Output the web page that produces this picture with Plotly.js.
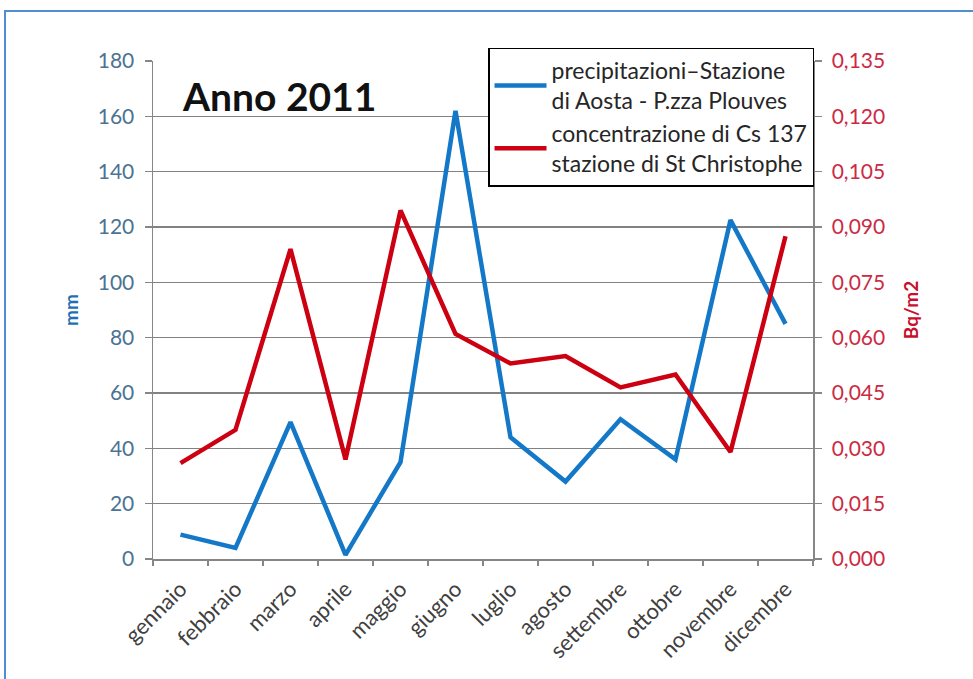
<!DOCTYPE html>
<html>
<head>
<meta charset="utf-8">
<script src="https://cdn.plot.ly/plotly-3.0.1.min.js"></script>
<style>
  html, body { margin: 0; padding: 0; background: #ffffff; overflow: hidden; }
  #frame { position: absolute; left: 4px; top: 10px; width: 1000px; height: 1000px;
           border-left: 2px solid #4f8fcf; border-top: 2px solid #4f8fcf; box-sizing: border-box; }
  #chart { position: absolute; left: 0; top: 0; width: 973px; height: 679px; }
</style>
</head>
<body>
<div id="frame"></div>
<div id="chart"></div>
<script>
// Monthly categories
const months = ['gennaio', 'febbraio', 'marzo', 'aprile', 'maggio', 'giugno',
                'luglio', 'agosto', 'settembre', 'ottobre', 'novembre', 'dicembre'];

// Precipitation, Aosta - P.zza Plouves (mm)
const precipitazioni = [8.8, 4, 49.5, 1.5, 35, 162, 44, 28, 50.5, 36, 122.5, 85];

// Cs 137 concentration, St Christophe (Bq/m2)
const cesio137 = [0.026, 0.035, 0.084, 0.027, 0.0945, 0.061, 0.053, 0.055, 0.0465, 0.050, 0.029, 0.0875];

const leftTicks = [0, 20, 40, 60, 80, 100, 120, 140, 160, 180];
const rightTicks = [0, 0.015, 0.03, 0.045, 0.06, 0.075, 0.09, 0.105, 0.12, 0.135];

const FONT = 'Lato, "Open Sans", sans-serif';
const BLUE = '#1478c8';
const RED = '#cc0011';

const traces = [
  {
    x: months, y: precipitazioni, type: 'scatter', mode: 'lines',
    name: 'precipitazioni\u2013Stazione<br>di Aosta - P.zza Plouves',
    line: { color: BLUE, width: 4.5 }, yaxis: 'y'
  },
  {
    x: months, y: cesio137, type: 'scatter', mode: 'lines',
    name: 'concentrazione di Cs 137<br>stazione di St Christophe',
    line: { color: RED, width: 4.5 }, yaxis: 'y2'
  }
];

const layout = {
  width: 973, height: 679,
  margin: { l: 153, r: 160, t: 61, b: 120, pad: 0 },
  paper_bgcolor: 'rgba(0,0,0,0)',
  plot_bgcolor: '#ffffff',
  separators: ',.',
  font: { family: FONT, size: 21, color: '#404040' },
  showlegend: true,
  legend: {
    x: 0.5076, xanchor: 'left', y: 1.027, yanchor: 'top',
    bgcolor: '#ffffff', bordercolor: '#000000', borderwidth: 1.5,
    font: { family: FONT, size: 23, color: '#262626' },
    tracegroupgap: 6, itemwidth: 52
  },
  xaxis: {
    type: 'category', tickson: 'boundaries', range: [-0.5, 11.5],
    ticks: 'outside', ticklen: 5, tickcolor: '#868686', tickwidth: 1.5,
    showline: true, linecolor: '#868686', linewidth: 1.5,
    showgrid: false, tickangle: -45, ticklabelstandoff: 7,
    tickfont: { family: FONT, size: 22, color: '#404040' }
  },
  yaxis: {
    range: [0, 180], tickvals: leftTicks,
    ticks: 'outside', ticklen: 7, tickcolor: '#868686', tickwidth: 1.5,
    showline: true, linecolor: '#868686', linewidth: 1.5,
    showgrid: true, gridcolor: '#828282', gridwidth: 1.6,
    zeroline: false, ticklabelstandoff: 6,
    tickfont: { family: FONT, size: 21, color: '#4b7393' },
    title: { text: '<b>mm</b>', font: { family: FONT, size: 19, color: '#1f6fb4' }, standoff: 14 }
  },
  yaxis2: {
    range: [0, 0.135], tickvals: rightTicks, tickformat: '.3f',
    overlaying: 'y', side: 'right',
    ticks: 'outside', ticklen: 7, tickcolor: '#868686', tickwidth: 1.5,
    showline: true, linecolor: '#868686', linewidth: 1.5,
    showgrid: false, zeroline: false, ticklabelstandoff: 6,
    tickfont: { family: FONT, size: 21, color: '#cc2a44' },
    title: { text: '<b>Bq/m2</b>', font: { family: FONT, size: 19, color: '#c8102e' }, standoff: 20 }
  },
  annotations: [
    {
      text: '<b>Anno 2011</b>', xref: 'paper', yref: 'paper',
      x: 0.041, xanchor: 'left', y: 0.93, yanchor: 'middle',
      showarrow: false, font: { family: FONT, size: 39, color: '#111111' }
    }
  ]
};

Plotly.newPlot('chart', traces, layout, { displayModeBar: false, staticPlot: true });
</script>
</body>
</html>
